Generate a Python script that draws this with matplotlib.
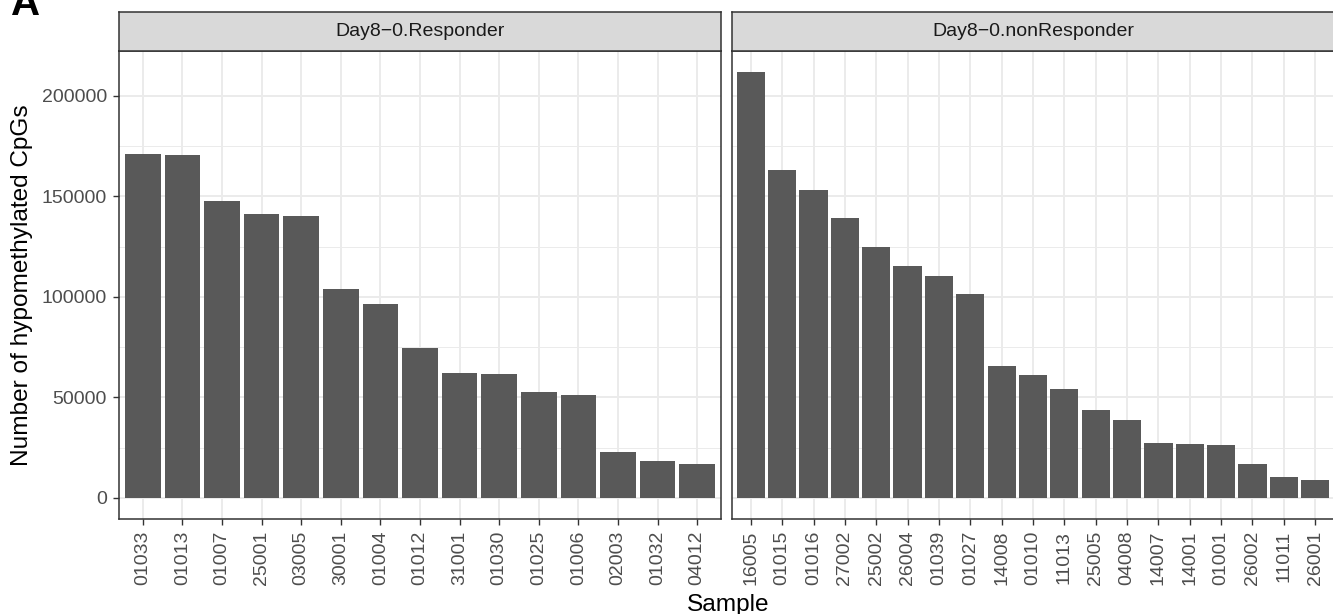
#!/usr/bin/env python3
"""
Faceted bar chart: number of hypomethylated CpGs per sample,
Day8-0 responders vs non-responders (ggplot theme_bw look).
"""

import numpy as np
import matplotlib
matplotlib.use("Agg")
import matplotlib.pyplot as plt
from matplotlib.ticker import MultipleLocator


# -------------------- data --------------------

RESP_TITLE = "Day8\u22120.Responder"
RESP_SAMPLES = ["01033", "01013", "01007", "25001", "03005", "30001", "01004",
                "01012", "31001", "01030", "01025", "01006", "02003", "01032", "04012"]
RESP_COUNTS = [171100, 170600, 147800, 141300, 140500, 103800, 96700,
               74700, 62100, 61800, 52900, 51200, 23100, 18300, 17000]

NONRESP_TITLE = "Day8\u22120.nonResponder"
NONRESP_SAMPLES = ["16005", "01015", "01016", "27002", "25002", "26004", "01039",
                   "01027", "14008", "01010", "11013", "25005", "04008", "14007",
                   "14001", "01001", "26002", "11011", "26001"]
NONRESP_COUNTS = [211900, 163300, 153400, 139200, 125000, 115300, 110200,
                  101700, 65500, 61100, 54000, 43900, 39000, 27300,
                  26900, 26300, 17000, 10600, 8900]

Y_LABEL = "Number of hypomethylated CpGs"
X_LABEL = "Sample"


# -------------------- style --------------------

W, H = 1333, 614
DPI = 100

BAR_COLOR = "#595959"
GRID_COLOR = "#EBEBEB"
BORDER_COLOR = "#333333"
STRIP_BG = "#D9D9D9"
TICK_TEXT = "#4D4D4D"

FONT = ["Liberation Sans", "DejaVu Sans"]


def px_x(p):
    return p / W


def px_y(p):
    # pixel from top -> figure fraction from bottom
    return 1.0 - p / H


def draw_panel(fig, left_px, title, samples, counts, ymax, show_y):
    top_px, bot_px = 50.7, 519.3
    width_px = 602.0
    ax = fig.add_axes([px_x(left_px), px_y(bot_px),
                       px_x(width_px), (bot_px - top_px) / H])

    x = np.arange(len(samples))
    ax.bar(x, counts, width=0.9, color=BAR_COLOR, zorder=2)

    ax.set_xlim(-0.6, len(samples) - 0.4)
    ax.set_ylim(-0.05 * ymax, 1.05 * ymax)

    ax.set_xticks(x)
    ax.set_xticklabels(samples, rotation=90, family=FONT, fontsize=14,
                       color=TICK_TEXT)
    ax.yaxis.set_major_locator(MultipleLocator(50000))
    ax.yaxis.set_minor_locator(MultipleLocator(25000))

    ax.grid(True, which="major", color=GRID_COLOR, linewidth=1.4, zorder=0)
    ax.grid(True, which="minor", axis="y", color=GRID_COLOR, linewidth=0.7, zorder=0)
    ax.set_axisbelow(True)

    ax.tick_params(axis="both", which="major", length=4.3, width=1.0,
                   color=BORDER_COLOR)
    ax.tick_params(axis="x", pad=4)
    ax.tick_params(axis="y", which="minor", length=0)
    if show_y:
        ax.tick_params(axis="y", pad=4.5)
        for lab in ax.get_yticklabels():
            lab.set_family(FONT)
            lab.set_fontsize(14)
            lab.set_color(TICK_TEXT)
    else:
        ax.tick_params(axis="y", which="both", left=False, labelleft=False)

    for s in ax.spines.values():
        s.set_color(BORDER_COLOR)
        s.set_linewidth(1.1)

    # facet strip
    strip_top = 12.0
    sax = fig.add_axes([px_x(left_px), px_y(top_px),
                        px_x(width_px), (top_px - strip_top) / H])
    sax.set_facecolor(STRIP_BG)
    sax.set_xticks([])
    sax.set_yticks([])
    for s in sax.spines.values():
        s.set_color(BORDER_COLOR)
        s.set_linewidth(1.1)
    sax.text(0.5, 0.5, title, transform=sax.transAxes, ha="center", va="center",
             family=FONT, fontsize=14, color="#1A1A1A")
    return ax


def main():
    fig = plt.figure(figsize=(W / DPI, H / DPI), dpi=DPI)
    fig.patch.set_facecolor("white")

    ymax = max(max(RESP_COUNTS), max(NONRESP_COUNTS))

    draw_panel(fig, 119.0, RESP_TITLE, RESP_SAMPLES, RESP_COUNTS, ymax, True)
    draw_panel(fig, 732.0, NONRESP_TITLE, NONRESP_SAMPLES, NONRESP_COUNTS, ymax, False)

    fig.text(px_x(22), px_y(285), Y_LABEL, rotation=90, ha="center", va="center",
             family=FONT, fontsize=17.6, color="black")
    fig.text(px_x(728), px_y(611), X_LABEL, ha="center", va="baseline",
             family=FONT, fontsize=17.6, color="black")
    fig.text(px_x(11), px_y(15), "A", ha="left", va="baseline",
             family=FONT, fontsize=29, fontweight="bold", color="black")

    fig.savefig("out.png", dpi=DPI)


if __name__ == "__main__":
    main()
